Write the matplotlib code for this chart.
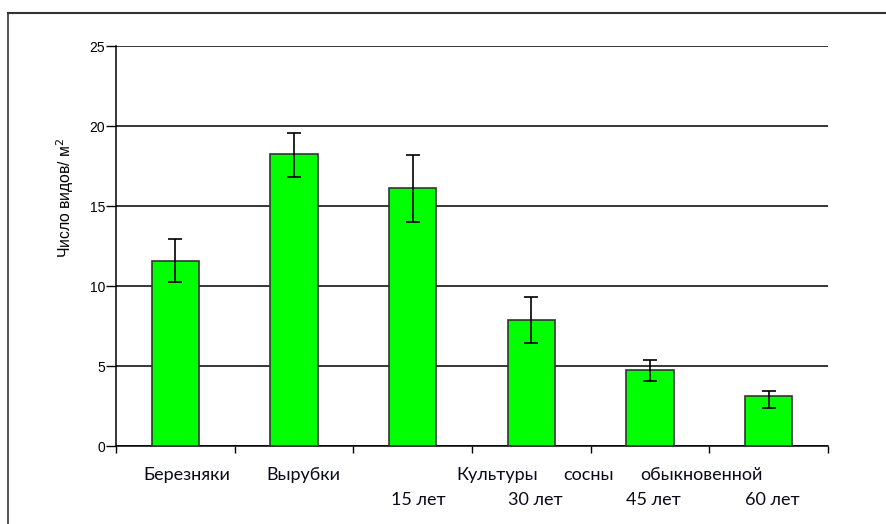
import numpy as np
import matplotlib
matplotlib.use("Agg")
from matplotlib import pyplot as plt
from matplotlib.lines import Line2D
import matplotlib.transforms as mtransforms

# Data
categories = ["Березняки", "Вырубки", "15 лет", "30 лет", "45 лет", "60 лет"]
species_per_m2 = [11.55, 18.25, 16.15, 7.85, 4.73, 3.12]
err_low = [1.27, 1.45, 2.12, 1.43, 0.68, 0.76]
err_high = [1.37, 1.33, 2.03, 1.44, 0.66, 0.32]
yticks = [0, 5, 10, 15, 20, 25]

# Labels under the axis: (text, x in category units)
row1_labels = [("Березняки", 0.10), ("Вырубки", 1.075), ("Культуры", 2.71),
               ("сосны", 3.48), ("обыкновенной", 4.43)]
row2_labels = [("15 лет", 2.05), ("30 лет", 3.03), ("45 лет", 4.03), ("60 лет", 5.03)]

fig = plt.figure(figsize=(8.87, 5.24), dpi=100)
ax = fig.add_axes([116 / 887, 1 - 446 / 524, (828 - 116) / 887, 400 / 524])

x = np.arange(len(categories))
ax.bar(x, species_per_m2, width=0.4, color="#00ff00", edgecolor="#333333",
       linewidth=1.2, zorder=3)
ax.errorbar(x, species_per_m2, yerr=[err_low, err_high], fmt="none",
            ecolor="black", elinewidth=1.2, capsize=5, capthick=1.2, zorder=4)

ax.set_xlim(-0.5, len(categories) - 0.5)
ax.set_ylim(0, 25)
ax.set_yticks(yticks)
ax.yaxis.grid(True, color="black", linewidth=1.1, zorder=0)
ax.set_axisbelow(True)
ax.set_xticks(np.arange(-0.5, len(categories), 1.0))
ax.set_xticklabels([])
ax.tick_params(axis="x", length=5, width=1, color="black", direction="out")
ax.tick_params(axis="y", length=7, width=1, color="black", direction="out",
               labelsize=10, pad=1)
for lbl in ax.get_yticklabels():
    lbl.set_family("Liberation Sans")
for side in ["top", "right"]:
    ax.spines[side].set_visible(False)
ax.spines["left"].set_linewidth(1.1)
ax.spines["bottom"].set_linewidth(1.1)

ax.set_ylabel("Число видов/ м$^2$", family="Liberation Sans", fontsize=11.3)
ax.yaxis.set_label_coords(-0.056, 0.62)

trans = mtransforms.blended_transform_factory(ax.transData, fig.transFigure)
for text, xpos in row1_labels:
    ax.text(xpos, 1 - 475 / 524, text, transform=trans, ha="center", va="center",
            family="Lato", fontsize=13, color="#0a0a1a")
for text, xpos in row2_labels:
    ax.text(xpos, 1 - 500 / 524, text, transform=trans, ha="center", va="center",
            family="Lato", fontsize=13, color="#0a0a1a")

# Frame around the chart (left and top edges visible)
fig.add_artist(Line2D([8 / 887, 8 / 887], [0, 1 - 13 / 524], transform=fig.transFigure,
                      color="#333333", linewidth=1.2))
fig.add_artist(Line2D([8 / 887, 1], [1 - 13 / 524, 1 - 13 / 524], transform=fig.transFigure,
                      color="#333333", linewidth=1.5))

fig.savefig("out.png", dpi=100)
